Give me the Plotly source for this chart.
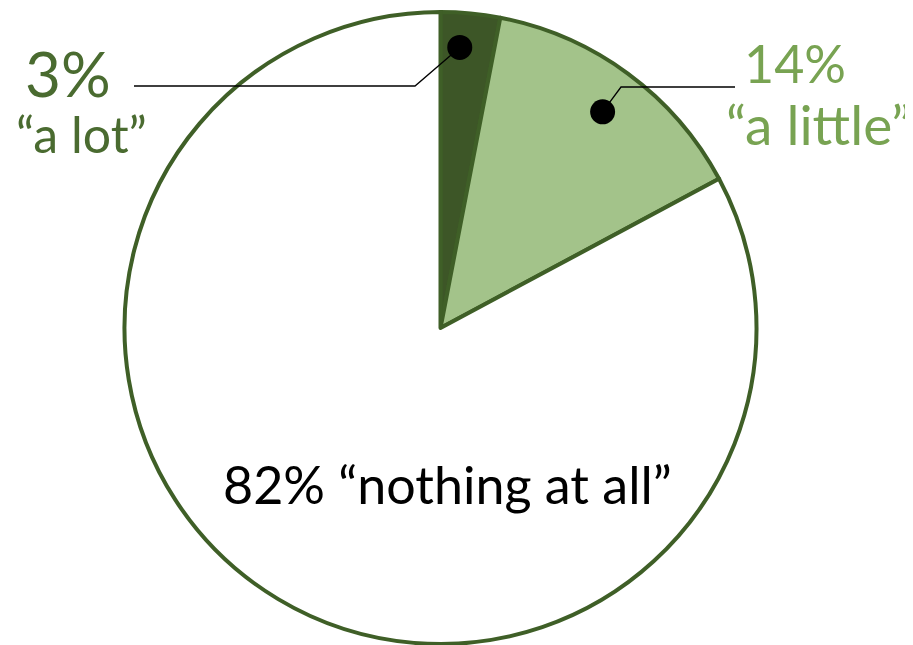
"""Pie chart: how much people know, with leader-line callouts."""

import numpy as np
import plotly.graph_objects as go

labels = ["a lot", "a little", "nothing at all"]
values = [3, 14, 82]
fills = ["#3d5627", "#a3c38a", "#ffffff"]

W, H = 913, 645
OFF = 8  # default body margin of the html page
cx, cy, R = 440.5, 328.0, 316.0
FW, FH = W - OFF, H - OFF

fig = go.Figure()
fig.add_trace(
    go.Pie(
        labels=labels,
        values=values,
        sort=False,
        direction="clockwise",
        rotation=0,
        marker=dict(colors=fills, line=dict(color="#3f5f27", width=4)),
        textinfo="none",
        hoverinfo="label+percent",
        domain=dict(
            x=[(cx - R - OFF) / FW, (cx + R - OFF) / FW],
            y=[(H - cy - R) / FH, (H - cy + R) / FH],
        ),
        showlegend=False,
    )
)

# dot positions from slice angles (clockwise from 12 o'clock)
total = sum(values)
cum = np.cumsum([0] + values) / total * 360
dot_frac = [0.36, 0.51]
dot_rad = [0.89, 0.855]
dots = []
for i in range(2):
    a = np.radians(cum[i] + dot_frac[i] * (cum[i + 1] - cum[i]))
    r = dot_rad[i] * R
    dots.append((cx + r * np.sin(a), cy - r * np.cos(a)))

# leader lines: dot -> elbow -> label
elbows = [(415, 86), (621, 87)]
ends = [(134, 86), (735, 87)]
for (dx, dy), (ex, ey), (tx, ty) in zip(dots, elbows, ends):
    fig.add_shape(
        type="path",
        path=f"M {dx:.1f},{dy:.1f} L {ex},{ey} L {tx},{ty}",
        xref="x", yref="y",
        line=dict(color="#000000", width=1.3),
        layer="above",
    )
    fig.add_shape(
        type="circle",
        x0=dx - 12.5, x1=dx + 12.5, y0=dy - 12.5, y1=dy + 12.5,
        xref="x", yref="y",
        fillcolor="#000000",
        line=dict(width=0),
        layer="above",
    )

font = "Lato, 'Open Sans', sans-serif"
dark_txt = "#4a6b30"
light_txt = "#78a352"
fig.add_annotation(x=68, y=73, text=f"{values[0]}%", showarrow=False,
                   font=dict(family=font, size=62, color=dark_txt))
fig.add_annotation(x=81, y=134, text=f"\u201c{labels[0]}\u201d", showarrow=False,
                   font=dict(family=font, size=50, color=dark_txt))
fig.add_annotation(x=795, y=63, text=f"{values[1]}%", showarrow=False,
                   font=dict(family=font, size=52, color=light_txt))
fig.add_annotation(x=818, y=124, text=f"\u201c{labels[1]}\u201d", showarrow=False,
                   font=dict(family=font, size=55, color=light_txt))
fig.add_annotation(x=447, y=484, text=f"{values[2]}% \u201c{labels[2]}\u201d",
                   showarrow=False,
                   font=dict(family=font, size=52, color="#000000"))

fig.update_layout(
    width=FW,
    height=FH,
    margin=dict(l=0, r=0, t=0, b=0),
    paper_bgcolor="white",
    plot_bgcolor="rgba(0,0,0,0)",
    xaxis=dict(range=[OFF, W], visible=False, fixedrange=True),
    yaxis=dict(range=[H, OFF], visible=False, fixedrange=True),
)

fig.write_html("out.html")
